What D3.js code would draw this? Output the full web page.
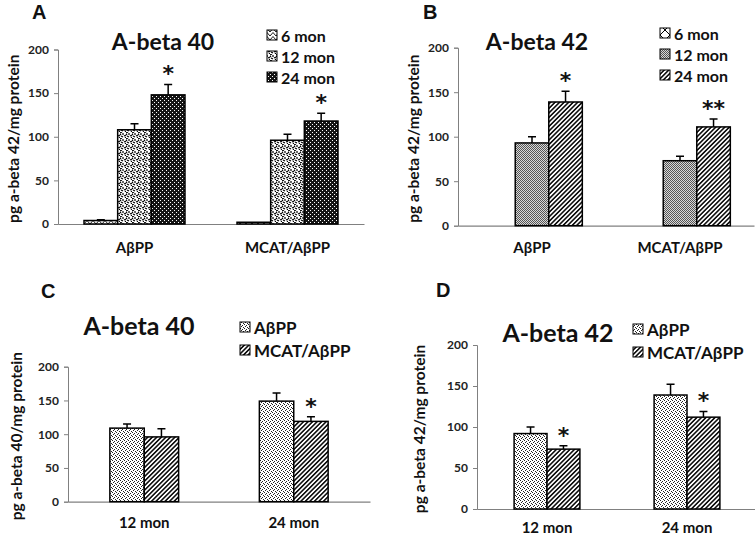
<!DOCTYPE html>
<html><head><meta charset="utf-8">
<script src="https://cdn.jsdelivr.net/npm/d3@7"></script>
<style>body{margin:0;background:#fff} svg{display:block}</style>
</head><body>
<svg id="c" width="755" height="537"></svg>
<script>
// ---------- data ----------
const yTicks = [0, 50, 100, 150, 200];

const groupsA = ["AβPP", "MCAT/AβPP"];
const seriesA = ["6 mon", "12 mon", "24 mon"];
const valuesA = [[4, 108, 148], [2, 96, 118]];
const errorsA = [[1, 7, 12], [0, 7, 9]];
const signifA = [["", "", "*"], ["", "", "*"]];

const groupsB = ["AβPP", "MCAT/AβPP"];
const seriesB = ["6 mon", "12 mon", "24 mon"];
const valuesB = [[null, 93, 139], [null, 73, 111]];
const errorsB = [[0, 7, 12], [0, 5, 9]];
const signifB = [["", "", "*"], ["", "", "**"]];

const groupsC = ["12 mon", "24 mon"];
const seriesC = ["AβPP", "MCAT/AβPP"];
const valuesC = [[109, 96], [149, 119]];
const errorsC = [[6, 12], [12, 7]];
const signifC = [["", ""], ["", "*"]];

const groupsD = ["12 mon", "24 mon"];
const seriesD = ["AβPP", "MCAT/AβPP"];
const valuesD = [[92, 73], [139, 112]];
const errorsD = [[8, 4], [13, 7]];
const signifD = [["", "*"], ["", "*"]];

// ---------- drawing ----------
const svg = d3.select("#c");
const defs = svg.append("defs");
const FONT = "Lato, 'Open Sans', sans-serif";

function pat(id, w, h, draw, transform) {
  const p = defs.append("pattern").attr("id", id).attr("patternUnits", "userSpaceOnUse")
    .attr("width", w).attr("height", h);
  if (transform) p.attr("patternTransform", transform);
  draw(p);
}
// A 6 mon: light zigzag triangles
pat("pA6", 6, 4, p => {
  p.append("rect").attr("width", 6).attr("height", 4).attr("fill", "#fff");
  p.append("path").attr("d", "M0,4 L3,0.5 L6,4").attr("fill", "none").attr("stroke", "#000").attr("stroke-width", 0.9);
});
// A 12 mon: confetti dashes
pat("pA12", 6, 6, p => {
  p.append("rect").attr("width", 6).attr("height", 6).attr("fill", "#fff");
  p.append("path").attr("d", "M0,1 L2,0 M3,1 L3,3 M1,4 L3,5 M4,4 L6,3 M5,6 L6,5 M0,3 L1,2")
    .attr("fill", "none").attr("stroke", "#000").attr("stroke-width", 1.2);
});
// A 24 mon: dark with small white dots
pat("pA24", 4, 4, p => {
  p.append("rect").attr("width", 4).attr("height", 4).attr("fill", "#151515");
  p.append("rect").attr("x", 0).attr("y", 0).attr("width", 1).attr("height", 1).attr("fill", "#fff");
  p.append("rect").attr("x", 2).attr("y", 2).attr("width", 1).attr("height", 1).attr("fill", "#fff");
});
// B 6 mon: white diamond
pat("pB6", 10, 10, p => {
  p.append("rect").attr("width", 10).attr("height", 10).attr("fill", "#fff");
  p.append("path").attr("d", "M5,0 L10,5 L5,10 L0,5 Z").attr("fill", "none").attr("stroke", "#000").attr("stroke-width", 1);
});
// B 12 mon: fine gray checker
pat("pB12", 2, 2, p => {
  p.append("rect").attr("width", 2).attr("height", 2).attr("fill", "#d8d8d8");
  p.append("rect").attr("width", 1).attr("height", 1).attr("fill", "#555");
  p.append("rect").attr("x", 1).attr("y", 1).attr("width", 1).attr("height", 1).attr("fill", "#555");
});
// diagonal hatch
pat("pHatch", 3.2, 3.2, p => {
  p.append("rect").attr("width", 3.2).attr("height", 3.2).attr("fill", "#fff");
  p.append("rect").attr("x", 0).attr("y", 0).attr("width", 1.6).attr("height", 3.2).attr("fill", "#111");
}, "rotate(45)");
// C/D AbPP: light sand dots
pat("pDot", 4, 4, p => {
  p.append("rect").attr("width", 4).attr("height", 4).attr("fill", "#fff");
  [[0, 0], [2, 1], [1, 2], [3, 3]].forEach(([a, b]) =>
    p.append("rect").attr("x", a).attr("y", b).attr("width", 1).attr("height", 1).attr("fill", "#222"));
});

const panels = [
  { letter: "A", lx: 32, ly: 19, title: "A-beta 40", tx: 163, ty: 50, ts: 23,
    groups: groupsA, series: seriesA, values: valuesA, errors: errorsA, sig: signifA,
    fills: ["pA6", "pA12", "pA24"], legendFills: ["pA6", "pA12", "pA24"],
    x0: 58, x1: 364, yZero: 224, yTop: 49.5, pi: 0.34, po: 0.17,
    ylab: "pg  a-beta 42/mg protein", ylx: 15, gy: 253, gs: 15,
    lgx: 267, lgy: [35, 56, 77], lgs: 16 },
  { letter: "B", lx: 423, ly: 19, title: "A-beta 42", tx: 537, ty: 50, ts: 23,
    groups: groupsB, series: seriesB, values: valuesB, errors: errorsB, sig: signifB,
    fills: ["pB6", "pB12", "pHatch"], legendFills: ["pB6", "pB12", "pHatch"],
    x0: 458, x1: 754, yZero: 225.7, yTop: 47.7, pi: 0.32, po: 0.16,
    ylab: "pg  a-beta 42/mg protein", ylx: 415, gy: 253, gs: 15,
    lgx: 660, lgy: [33, 54, 75], lgs: 16 },
  { letter: "C", lx: 41, ly: 298, title: "A-beta 40", tx: 139, ty: 335, ts: 25,
    groups: groupsC, series: seriesC, values: valuesC, errors: errorsC, sig: signifC,
    fills: ["pDot", "pHatch"], legendFills: ["pDot", "pHatch"],
    x0: 68, x1: 370, yZero: 501.7, yTop: 366.7, pi: 0.54, po: 0.28,
    ylab: "pg  a-beta 40/mg protein", ylx: 18, gy: 528, gs: 15,
    lgx: 240, lgy: [327, 350], lgs: 17 },
  { letter: "D", lx: 436, ly: 297, title: "A-beta 42", tx: 558, ty: 342, ts: 25,
    groups: groupsD, series: seriesD, values: valuesD, errors: errorsD, sig: signifD,
    fills: ["pDot", "pHatch"], legendFills: ["pDot", "pHatch"],
    x0: 477, x1: 757, yZero: 509, yTop: 345, pi: 0.53, po: 0.265,
    ylab: "pg  a-beta 42/mg protein", ylx: 421, gy: 533, gs: 15,
    lgx: 633, lgy: [329, 352], lgs: 17 }
];

panels.forEach(P => {
  const g = svg.append("g");
  const y = d3.scaleLinear().domain([0, 200]).range([P.yZero, P.yTop]);
  const x = d3.scaleBand().domain(P.groups).range([P.x0, P.x1]).paddingInner(P.pi).paddingOuter(P.po);
  const xs = d3.scaleBand().domain(P.series).range([0, x.bandwidth()]);

  // letter
  g.append("text").attr("x", P.lx).attr("y", P.ly).text(P.letter)
    .attr("font-family", "'Liberation Sans', Arial, sans-serif").attr("font-weight", "bold").attr("font-size", 20).attr("fill", "#111");
  // title
  g.append("text").attr("x", P.tx).attr("y", P.ty).attr("text-anchor", "middle").text(P.title)
    .attr("font-family", FONT).attr("font-weight", "bold").attr("font-size", P.ts).attr("fill", "#111");

  // y axis
  const ya = g.append("g").attr("transform", `translate(${P.x0},0)`)
    .call(d3.axisLeft(y).tickValues(yTicks).tickSize(4).tickPadding(5).tickSizeOuter(4));
  ya.select(".domain").attr("stroke", "#808080");
  ya.selectAll(".tick line").attr("stroke", "#808080");
  ya.selectAll(".tick text").attr("font-family", FONT).attr("font-weight", "bold").attr("font-size", 12).attr("fill", "#222");

  // x axis line
  const xa = g.append("g").attr("transform", `translate(0,${P.yZero})`)
    .call(d3.axisBottom(x).tickSize(0).tickPadding(0));
  xa.select(".domain").attr("stroke", "#808080").attr("stroke-width", 1.2);
  xa.selectAll(".tick text").remove();

  // group labels
  g.selectAll(".glab").data(P.groups).join("text")
    .attr("x", d => x(d) + x.bandwidth() / 2).attr("y", P.gy).attr("text-anchor", "middle")
    .text(d => d).attr("font-family", FONT).attr("font-weight", "bold").attr("font-size", P.gs).attr("fill", "#111");

  // y label
  const cy = (P.yZero + P.yTop) / 2 + 2;
  g.append("text").attr("transform", `translate(${P.ylx},${cy}) rotate(-90)`)
    .attr("text-anchor", "middle").attr("dominant-baseline", "middle").text(P.ylab)
    .attr("font-family", FONT).attr("font-weight", "bold").attr("font-size", 15.5).attr("fill", "#111");

  // bars
  const cells = [];
  P.groups.forEach((grp, gi) => P.series.forEach((s, si) => {
    const v = P.values[gi][si];
    if (v === null) return;
    cells.push({ grp, s, si, v, e: P.errors[gi][si], sig: P.sig[gi][si] });
  }));
  const bg = g.selectAll(".bar").data(cells).join("g");
  bg.append("rect")
    .attr("x", d => x(d.grp) + xs(d.s)).attr("y", d => y(d.v))
    .attr("width", xs.bandwidth()).attr("height", d => y(0) - y(d.v))
    .attr("fill", d => `url(#${P.fills[d.si]})`).attr("stroke", "#000").attr("stroke-width", 1.5);
  const cx = d => x(d.grp) + xs(d.s) + xs.bandwidth() / 2;
  bg.filter(d => d.e > 0).append("path")
    .attr("d", d => `M${cx(d)},${y(d.v)} V${y(d.v + d.e)} M${cx(d) - 4},${y(d.v + d.e)} H${cx(d) + 4}`)
    .attr("stroke", "#000").attr("stroke-width", 1.5).attr("fill", "none");
  bg.filter(d => d.sig).append("text")
    .attr("x", cx).attr("y", d => y(d.v + d.e) - 3).attr("text-anchor", "middle")
    .text(d => d.sig).attr("font-family", "'DejaVu Sans', sans-serif").attr("font-weight", "bold")
    .attr("font-size", 22).attr("fill", "#111");

  // legend
  P.series.forEach((s, i) => {
    const ly = P.lgy[i];
    g.append("rect").attr("x", P.lgx).attr("y", ly - 5).attr("width", 10).attr("height", 10)
      .attr("fill", `url(#${P.legendFills[i]})`).attr("stroke", "#000").attr("stroke-width", 1);
    g.append("text").attr("x", P.lgx + 14).attr("y", ly).attr("dominant-baseline", "central").text(s)
      .attr("font-family", FONT).attr("font-weight", "bold").attr("font-size", P.lgs).attr("fill", "#111");
  });
});
</script>
</body></html>
